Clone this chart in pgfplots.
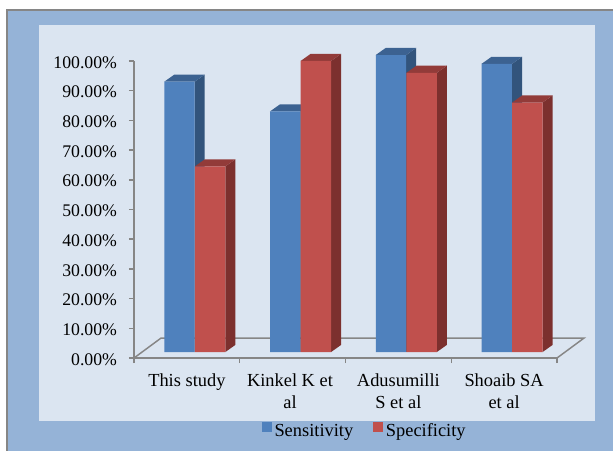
\documentclass[border=0pt]{standalone}
\usepackage{fontspec}
\setmainfont{Liberation Serif}
\usepackage{pgfplots}
\pgfplotsset{compat=1.18}

\definecolor{framebg}{HTML}{95B3D7}
\definecolor{panelbg}{HTML}{DBE5F1}
\definecolor{axisgray}{HTML}{868686}
\definecolor{bluefront}{HTML}{4F81BD}
\definecolor{bluetop}{HTML}{3C6291}
\definecolor{blueside}{HTML}{32547C}
\definecolor{redfront}{HTML}{C0504D}
\definecolor{redtop}{HTML}{923B39}
\definecolor{redside}{HTML}{7C302E}

\begin{document}
\begin{tikzpicture}
  % backgrounds, 1px = 0.75pt, origin at the axis corner
  \begin{scope}[x=0.75pt,y=0.75pt]
    \fill[white] (-134,-93) rectangle (479,358);
    \fill[axisgray] (-128,-93) rectangle (479,349);
    \fill[framebg] (-126,-93) rectangle (479,347);
    \fill[panelbg] (-95,-63) rectangle (461,333);
  \end{scope}
  \pgfresetboundingbox
  \useasboundingbox (-100.5pt,-69.75pt) rectangle (359.25pt,268.5pt);
  \begin{axis}[
      at={(0,0)},
      anchor=south west,
      scale only axis,
      width=317.25pt,
      height=222.75pt,
      clip=false,
      xmin=0, xmax=4,
      ymin=0, ymax=100,
      axis lines=left,
      axis line style={-,axisgray,line width=1.1pt},
      tick style={axisgray,line width=1.1pt},
      tick align=outside,
      major tick length=3.75pt,
      minor tick length=3.75pt,
      major x tick style={draw=none},
      xtick={0.5,1.475,2.5,3.5},
      minor xtick={0,1,2,3,4},
      xticklabels={This study,Kinkel K et\\al,Adusumilli\\S et al,Shoaib SA\\et al},
      xticklabel style={font=\fontsize{13.8}{16.5}\selectfont,align=center,anchor=north,yshift=-4.4pt},
      ytick={0,10,...,100},
      yticklabel={\pgfmathprintnumber[fixed,fixed zerofill,precision=2,assume math mode=true]{\tick}\%},
      yticklabel style={font=\fontsize{13.3}{16}\selectfont,anchor=east,xshift=-5.5pt,yshift=-1pt},
      legend columns=2,
      legend cell align=left,
      legend style={
          draw=none,fill=none,
          at={(axis cs:2.185,-25.1)},anchor=center,
          font=\fontsize{13.8}{16}\selectfont,
          column sep=0pt,
          nodes={text height=9.5pt,text depth=3pt},
          /tikz/every even column/.append style={column sep=13pt},
          inner sep=0pt,
      },
      legend image code/.code={\fill[#1] (0pt,-3.75pt) rectangle (7.5pt,3.75pt);},
      facepoly/.style={forget plot,draw=none,yshift=4.5pt,mark=none},
      frontbar/.style={ybar,bar width=22.8pt,bar shift=0pt,draw=none,fill=#1,yshift=4.5pt},
    ]
    % floor
    \addplot[forget plot,draw=axisgray,line width=1.1pt,mark=none]
      coordinates {(0,0)(0.255,6.7)(4.255,6.7)(4,0)};

    % Sensitivity: side faces, top faces, then front faces
    \addplot[facepoly,fill=blueside] coordinates {(0.574,0)(0.574,91)(0.669,93.4)(0.669,2.4)} --cycle;
    \addplot[facepoly,fill=bluetop]  coordinates {(0.286,91)(0.574,91)(0.669,93.4)(0.381,93.4)} --cycle;
    \addplot[facepoly,fill=blueside] coordinates {(1.574,0)(1.574,81)(1.669,83.4)(1.669,2.4)} --cycle;
    \addplot[facepoly,fill=bluetop]  coordinates {(1.286,81)(1.574,81)(1.669,83.4)(1.381,83.4)} --cycle;
    \addplot[facepoly,fill=blueside] coordinates {(2.574,0)(2.574,100)(2.669,102.4)(2.669,2.4)} --cycle;
    \addplot[facepoly,fill=bluetop]  coordinates {(2.286,100)(2.574,100)(2.669,102.4)(2.381,102.4)} --cycle;
    \addplot[facepoly,fill=blueside] coordinates {(3.574,0)(3.574,97)(3.669,99.4)(3.669,2.4)} --cycle;
    \addplot[facepoly,fill=bluetop]  coordinates {(3.286,97)(3.574,97)(3.669,99.4)(3.381,99.4)} --cycle;
    \addplot[frontbar=bluefront] coordinates {(0.43,91)(1.43,81)(2.43,100)(3.43,97)};
    \addlegendentry{Sensitivity}

    % Specificity
    \addplot[facepoly,fill=redside] coordinates {(0.864,0)(0.864,62.5)(0.959,64.9)(0.959,2.4)} --cycle;
    \addplot[facepoly,fill=redtop]  coordinates {(0.576,62.5)(0.864,62.5)(0.959,64.9)(0.671,64.9)} --cycle;
    \addplot[facepoly,fill=redside] coordinates {(1.864,0)(1.864,98)(1.959,100.4)(1.959,2.4)} --cycle;
    \addplot[facepoly,fill=redtop]  coordinates {(1.576,98)(1.864,98)(1.959,100.4)(1.671,100.4)} --cycle;
    \addplot[facepoly,fill=redside] coordinates {(2.864,0)(2.864,94)(2.959,96.4)(2.959,2.4)} --cycle;
    \addplot[facepoly,fill=redtop]  coordinates {(2.576,94)(2.864,94)(2.959,96.4)(2.671,96.4)} --cycle;
    \addplot[facepoly,fill=redside] coordinates {(3.864,0)(3.864,84)(3.959,86.4)(3.959,2.4)} --cycle;
    \addplot[facepoly,fill=redtop]  coordinates {(3.576,84)(3.864,84)(3.959,86.4)(3.671,86.4)} --cycle;
    \addplot[frontbar=redfront] coordinates {(0.72,62.5)(1.72,98)(2.72,94)(3.72,84)};
    \addlegendentry{Specificity}
  \end{axis}
\end{tikzpicture}
\end{document}
